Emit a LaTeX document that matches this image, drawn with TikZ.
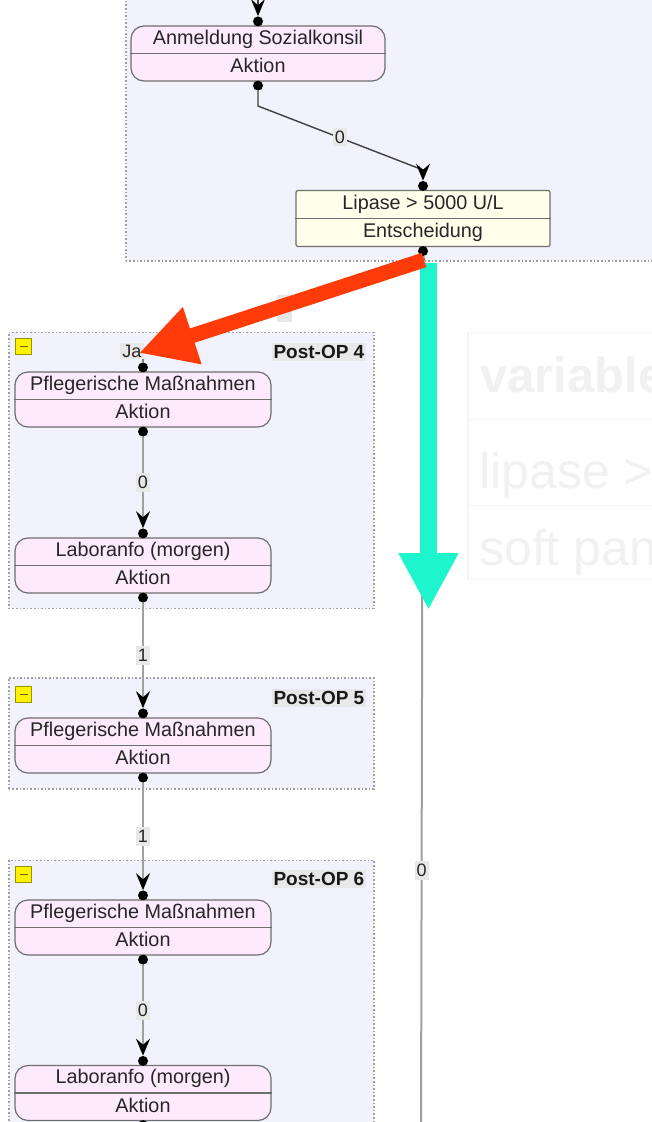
\documentclass[tikz,border=0pt]{standalone}
\usepackage{fontspec}
\setmainfont{Liberation Sans}
\usetikzlibrary{arrows.meta,calc}

\definecolor{groupfill}{RGB}{242,242,252}
\definecolor{groupline}{RGB}{160,160,160}
\definecolor{actionfill}{RGB}{253,235,253}
\definecolor{decisionfill}{RGB}{255,255,235}
\definecolor{boxline}{RGB}{110,110,110}
\definecolor{labelfill}{RGB}{232,232,232}
\definecolor{flowgray}{RGB}{160,160,160}
\definecolor{markred}{RGB}{255,59,10}
\definecolor{markcyan}{RGB}{30,245,205}
\definecolor{ghost}{RGB}{243,243,243}
\definecolor{ghosttext}{RGB}{241,241,241}
\definecolor{toggleline}{RGB}{150,150,0}

\tikzset{
  group/.style={draw=groupline, fill=groupfill, dotted, line width=1.6pt,
    anchor=north west, inner sep=0pt},
  actionbox/.style={draw=boxline, fill=actionfill, line width=1.2pt,
    rounded corners=13pt, minimum width=256pt, minimum height=55pt, inner sep=0pt},
  decisionbox/.style={draw=boxline, fill=decisionfill, line width=1.2pt,
    rounded corners=2pt, minimum width=254pt, minimum height=56pt, inner sep=0pt},
  divider/.style={draw=boxline, line width=1.2pt},
  boxtext/.style={font=\fontsize{19.8}{23}\selectfont, text=black!85,
    text height=14pt, text depth=4pt, inner sep=0pt},
  dot/.style={circle, fill=black, inner sep=0pt, minimum size=10pt},
  edgelabel/.style={fill=labelfill, font=\fontsize{18}{21}\selectfont,
    text=black!85, inner xsep=2pt, inner ysep=3pt},
  grouptitle/.style={fill=labelfill, font=\bfseries\fontsize{19}{22}\selectfont,
    text=black!90, inner xsep=1.5pt, inner ysep=2pt, anchor=east},
  toggle/.style={draw=toggleline, fill=yellow, line width=0.8pt,
    minimum size=16pt, inner sep=0pt},
  headtip/.style={-{Stealth[length=17pt, width=14pt, inset=6pt, color=black]}},
  grayflow/.style={draw=flowgray, line width=2pt, headtip},
  darkflow/.style={draw=black!75, line width=1.4pt, headtip},
  ghostcell/.style={draw=ghost, line width=1.5pt, fill=white},
  ghosttitle/.style={font=\bfseries\fontsize{49}{56}\selectfont, text=ghosttext,
    anchor=base west, inner sep=0pt},
  ghostrow/.style={font=\fontsize{50}{56}\selectfont, text=ghosttext,
    anchor=base west, inner sep=0pt},
}

% two-part box: name, style, position, upper text, lower text
\newcommand{\twopart}[5]{%
  \node[#2] (#1) at (#3) {};
  \draw[divider] (#1.west) -- (#1.east);
  \node[boxtext] (#1-top) at ($(#1.north)!0.5!(#1.center)$) {#4};
  \node[boxtext] (#1-bot) at ($(#1.south)!0.5!(#1.center)$) {#5};
  \node[dot] (#1-in) at ([yshift=4pt]#1.north) {};
  \node[dot] (#1-out) at ([yshift=-4pt]#1.south) {};
}

% collapse toggle of a group
\newcommand{\grouptoggle}[2]{%
  \node[toggle] (#1) at (#2) {};
  \draw[draw=toggleline!70!black, line width=1.2pt] ([xshift=-4pt]#1.center) -- ([xshift=4pt]#1.center);
}

\begin{document}
\begin{tikzpicture}[x=1pt, y=-1pt]
\useasboundingbox (0,0) rectangle (652,1122);

% groups
\node[group, minimum width=560pt, minimum height=290pt] (gtop) at (125,-30) {};
\node[group, minimum width=365pt, minimum height=276pt] (g4) at (8,331.5) {};
\node[group, minimum width=365pt, minimum height=111pt] (g5) at (8,677) {};
\node[group, minimum width=365pt, minimum height=300pt] (g6) at (8,859.5) {};

\grouptoggle{t4}{23.5,346.5}
\grouptoggle{t5}{23.5,694.5}
\grouptoggle{t6}{23.5,874.5}

\node[grouptitle] (title4) at (366,352) {Post-OP 4};
\node[grouptitle] (title5) at (366,698) {Post-OP 5};
\node[grouptitle] (title6) at (366,879) {Post-OP 6};

% variables table
\node[ghostcell, anchor=north west, minimum width=220pt, minimum height=87pt] (var-head) at (467,331.5) {};
\node[ghostcell, anchor=north west, minimum width=220pt, minimum height=86pt] (var-row1) at (467,418.5) {};
\node[ghostcell, anchor=north west, minimum width=220pt, minimum height=74pt] (var-row2) at (467,504.5) {};
\node[ghosttitle] (var-head-t) at (480,392) {variable};
\node[ghostrow] (var-row1-t) at (479,488) {lipase >};
\node[ghostrow] (var-row2-t) at (479,565) {soft pan};

% boxes
\twopart{anm}{actionbox, minimum width=254pt}{258,53.5}{Anmeldung Sozialkonsil}{Aktion}
\twopart{lip}{decisionbox}{423,218.5}{Lipase > 5000 U/L}{Entscheidung}
\twopart{pfl4}{actionbox}{143,399.5}{Pflegerische Maßnahmen}{Aktion}
\twopart{lab4}{actionbox}{143,565.5}{Laboranfo (morgen)}{Aktion}
\twopart{pfl5}{actionbox}{143,745.5}{Pflegerische Maßnahmen}{Aktion}
\twopart{pfl6}{actionbox}{143,927.5}{Pflegerische Maßnahmen}{Aktion}
\twopart{lab6}{actionbox}{143,1093}{Laboranfo (morgen)}{Aktion}

% connectors
\coordinate (feed) at (258,-20);
\coordinate (bend1) at (258,106);
\coordinate (bend2) at (423,170);
\coordinate (red-start) at (424,260);
\coordinate (red-tip) at (139,353);
\coordinate (ja-end) at (143,353);
\coordinate (exit) at (421,1140);

\draw[darkflow] (feed) -- (anm-in);
\draw[darkflow] (anm-out) -- (bend1) -- (bend2) -- (lip-in);
\node[edgelabel] (lbl-anm) at (340,137) {0};

\draw[black!75, line width=1.4pt] (lip-out) -- (red-start) -- (ja-end) -- (pfl4-in);
\node[edgelabel, minimum width=15pt, minimum height=27pt] (lbl-ja) at (284,308.5) {};
\node[edgelabel, inner ysep=2pt] (lbl-ja-end) at (132,351) {Ja};

\draw[grayflow] (pfl4-out) -- node[edgelabel] (lbl-4) {0} (lab4-in);
\draw[grayflow] (lab4-out) -- node[edgelabel] (lbl-45) {1} (pfl5-in);
\draw[grayflow] (pfl5-out) -- node[edgelabel] (lbl-56) {1} (pfl6-in);
\draw[grayflow] (pfl6-out) -- node[edgelabel] (lbl-6) {0} (lab6-in);
\draw[flowgray, line width=2pt] (lip-out) -- node[pos=0.695, edgelabel] (lbl-lip) {0} (exit);

% highlight arrows
\coordinate (cyan-start) at (428.5,263);
\coordinate (cyan-tip) at (428.5,610);
\draw[markcyan, line width=17pt, -{Triangle[length=57pt, width=56pt]}] (cyan-start) -- (cyan-tip);
\draw[markred, line width=15pt, -{Triangle[length=56pt, width=56pt]}] (red-start) -- (red-tip);
\end{tikzpicture}
\end{document}
